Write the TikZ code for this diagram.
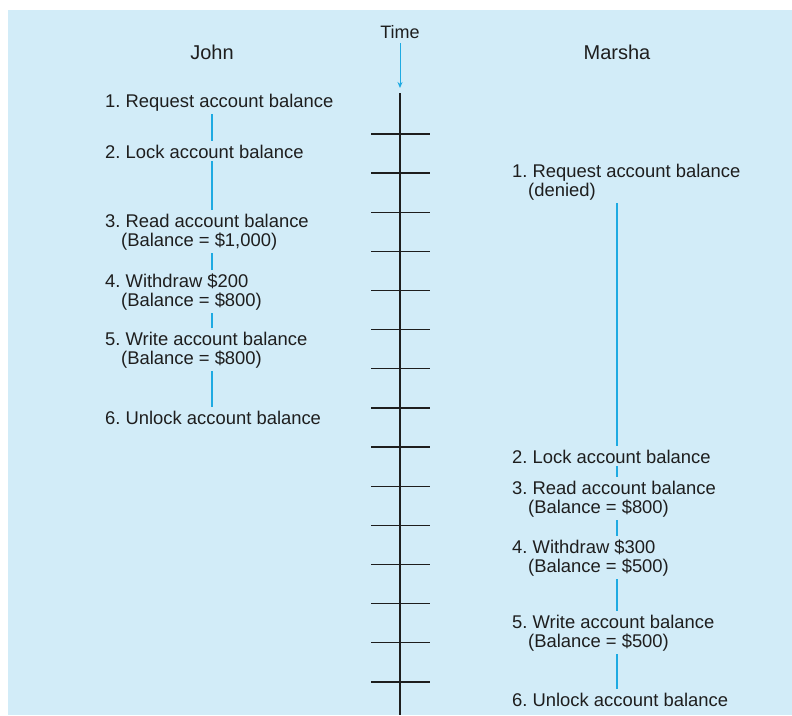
\documentclass[tikz,border=0pt]{standalone}
\usepackage{fontspec}
\setmainfont{Liberation Sans}
\usetikzlibrary{arrows.meta}

\definecolor{panelblue}{RGB}{210,236,248}
\definecolor{lanecyan}{RGB}{30,170,226}
\definecolor{inkgray}{RGB}{30,30,30}

\newcommand{\indl}{\hspace*{16pt}}

\tikzset{
  steptext/.style={anchor=base west,align=left,inner xsep=0pt,inner ysep=3pt,
                   text=inkgray,font=\fontsize{18.4}{19}\selectfont\frenchspacing},
  who/.style={anchor=base,inner sep=2pt,text=inkgray,font=\fontsize{20}{22}\selectfont},
  lane/.style={draw=lanecyan,line width=1.2pt},
  axis/.style={draw=inkgray,line width=1.3pt}
}

\begin{document}
\begin{tikzpicture}[x=1pt,y=-1pt]

            %\draw [help lines,step=50] (0,0) grid (792,715);

            \useasboundingbox (0,0) rectangle (792,715);
            \fill[panelblue] (8,10) rectangle (792,715);

            \path   (212,59) node (john) [who] {John}
                    (617,59) node (marsha) [who] {Marsha}
                    (400,38) node (time) [who,font=\fontsize{18}{20}\selectfont] {Time};

            \coordinate (jl) at (212,0);
            \coordinate (ml) at (617,0);
            \coordinate (ttop) at (400,93);
            \coordinate (tbot) at (400,715);

            % two-line steps sit on the baseline of their last line
            \path   (105,107) node (j1) [steptext] {1. Request account balance}
                    (105,158) node (j2) [steptext] {2. Lock account balance}
                    (105,246) node (j3) [steptext] {3. Read account balance\\\indl(Balance = \$1,000)}
                    (105,306) node (j4) [steptext] {4. Withdraw \$200\\\indl(Balance = \$800)}
                    (105,364) node (j5) [steptext] {5. Write account balance\\\indl(Balance = \$800)}
                    (105,424) node (j6) [steptext] {6. Unlock account balance};

            \path   (512,196) node (m1) [steptext] {1. Request account balance\\\indl(denied)}
                    (512,463) node (m2) [steptext] {2. Lock account balance}
                    (512,513) node (m3) [steptext] {3. Read account balance\\\indl(Balance = \$800)}
                    (512,572) node (m4) [steptext] {4. Withdraw \$300\\\indl(Balance = \$500)}
                    (512,647) node (m5) [steptext] {5. Write account balance\\\indl(Balance = \$500)}
                    (512,706) node (m6) [steptext] {6. Unlock account balance};

            \draw[lane] (j1.south -| jl) -- (j2.north -| jl);
            \draw[lane] (j2.south -| jl) -- (j3.north -| jl);
            \draw[lane] (j3.south -| jl) -- (j4.north -| jl);
            \draw[lane] (j4.south -| jl) -- (j5.north -| jl);
            \draw[lane] (j5.south -| jl) -- (j6.north -| jl);

            \draw[lane] (m1.south -| ml) -- (m2.north -| ml);
            \draw[lane] (m2.south -| ml) -- (m3.north -| ml);
            \draw[lane] (m3.south -| ml) -- (m4.north -| ml);
            \draw[lane] (m4.south -| ml) -- (m5.north -| ml);
            \draw[lane] (m5.south -| ml) -- (m6.north -| ml);

            \draw[lane,line width=1pt,-{Stealth[length=6pt,width=5pt]},shorten <=3pt,shorten >=5pt] (time) -- (ttop);
            \draw[axis,line width=1.6pt] (ttop) -- (tbot);
            \foreach \k in {0,...,14}
                \draw[axis] ([xshift=-29pt]400,{134+39.14*\k}) -- ([xshift=30pt]400,{134+39.14*\k});

\end{tikzpicture}
\end{document}
